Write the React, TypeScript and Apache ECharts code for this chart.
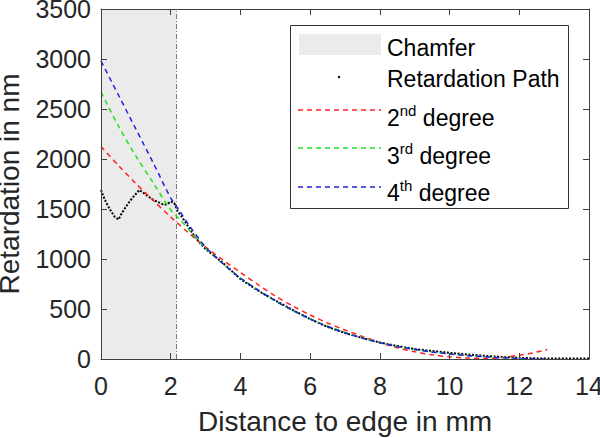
import React, { useEffect, useRef } from "react";
import * as echarts from "echarts";

const xTicks = [0, 2, 4, 6, 8, 10, 12, 14];
const yTicks = [0, 500, 1000, 1500, 2000, 2500, 3000, 3500];
const chamferEnd = 2.16;

const retardationPath: [number, number][] = [
  [0, 1690], [0.1, 1600], [0.2, 1530], [0.3, 1470], [0.4, 1420], [0.5, 1395],
  [0.6, 1460], [0.7, 1515], [0.8, 1565], [0.9, 1610], [1.0, 1650], [1.1, 1690],
  [1.2, 1665], [1.3, 1640], [1.4, 1615], [1.5, 1590], [1.6, 1575], [1.7, 1560],
  [1.8, 1540], [1.9, 1548], [2.0, 1575], [2.1, 1560], [2.2, 1480], [2.3, 1430],
  [2.4, 1380], [2.6, 1270], [2.8, 1175], [3.0, 1100], [3.25, 1030], [3.5, 960],
  [3.75, 880], [4.0, 800], [4.5, 685], [5.0, 585], [5.5, 490], [6.0, 400],
  [6.5, 320], [7.0, 260], [7.5, 210], [8.0, 165], [8.5, 130], [9.0, 100],
  [9.5, 80], [10.0, 62], [10.5, 46], [11.0, 32], [11.5, 21], [12.0, 12],
  [12.5, 6], [13.0, 4], [13.5, 4], [14.0, 6],
];

const fit2nd: [number, number][] = [
  [0, 2125], [0.5, 1935], [1, 1755], [1.5, 1585], [2, 1420], [2.5, 1265],
  [3, 1120], [3.5, 990], [4, 865], [4.5, 745], [5, 630], [5.5, 530], [6, 440],
  [6.5, 360], [7, 290], [7.5, 225], [8, 165], [8.5, 112], [9, 72], [9.5, 42],
  [10, 22], [10.5, 10], [11, 7], [11.5, 14], [12, 38], [12.4, 62], [12.8, 95],
];

const fit3rd: [number, number][] = [
  [0, 2670], [0.5, 2330], [1, 2030], [1.5, 1760], [2, 1490], [2.25, 1400],
  [2.5, 1300], [3, 1110], [3.5, 950], [4, 810], [4.5, 690], [5, 580],
  [5.5, 485], [6, 400], [6.5, 330], [7, 265], [7.5, 210], [8, 165], [8.5, 125],
  [9, 95], [9.5, 70], [10, 50], [10.5, 35], [11, 22], [11.5, 12], [12, 5], [12.1, 3],
];

const fit4th: [number, number][] = [
  [0, 2980], [0.5, 2640], [1, 2300], [1.5, 1960], [2, 1610], [2.25, 1485],
  [2.5, 1350], [3, 1120], [3.5, 955], [4, 810], [4.5, 690], [5, 582],
  [5.5, 487], [6, 400], [6.5, 325], [7, 262], [7.5, 208], [8, 163], [8.5, 125],
  [9, 95], [9.5, 70], [10, 50], [10.5, 34], [11, 22], [11.5, 12], [12, 5],
  [12.5, 1], [12.8, 0],
];

const legendLabels = ["Chamfer", "Retardation Path", "{n|2}{s|nd}{n| degree}", "{n|3}{s|rd}{n| degree}", "{n|4}{s|th}{n| degree}"];

const FONT = "'Liberation Sans', Arial, sans-serif";
const TEXT = "#262626";
const AXIS = "#404040";
const RED = "#ff2020";
const GREEN = "#22e022";
const BLUE = "#2020e0";
const DASH = [5, 4];

export default function App() {
  const ref = useRef<HTMLDivElement>(null);
  useEffect(() => {
    if (!ref.current) return;
    const chart = echarts.init(ref.current, null, { renderer: "svg" });
    const axisCommon = {
      axisLine: { show: true, onZero: false, lineStyle: { color: AXIS, width: 1 } },
      axisTick: { show: true, inside: true, length: 6, lineStyle: { color: AXIS } },
      splitLine: { show: false },
      z: 10,
    };
    const rich = {
      n: { fontSize: 23, fontFamily: FONT, color: TEXT, lineHeight: 26, verticalAlign: "bottom" },
      s: { fontSize: 15, fontFamily: FONT, color: TEXT, lineHeight: 15, verticalAlign: "top" },
    };
    const legendX = 387;
    const rowY = [46, 77, 116, 154, 191];
    const lineY = [0, 0, 110, 148, 187];
    const colors = [RED, GREEN, BLUE];
    const legendGraphics: any[] = [
      {
        type: "rect",
        shape: { x: 290.5, y: 25.5, width: 278, height: 183 },
        style: { fill: "#ffffff", stroke: "#333333", lineWidth: 1 },
        z: 100,
      },
      {
        type: "rect",
        shape: { x: 299, y: 34, width: 82, height: 21 },
        style: { fill: "#ebebeb" },
        z: 101,
      },
      {
        type: "circle",
        shape: { cx: 339, cy: 77, r: 1.2 },
        style: { fill: "#000" },
        z: 101,
      },
    ];
    for (let i = 0; i < 3; i++) {
      legendGraphics.push({
        type: "line",
        shape: { x1: 298, y1: lineY[i + 2], x2: 381, y2: lineY[i + 2] },
        style: { stroke: colors[i], lineWidth: 1.5, lineDash: DASH },
        z: 101,
      });
    }
    legendLabels.forEach((t, i) => {
      legendGraphics.push({
        type: "text",
        x: legendX,
        y: rowY[i],
        style: {
          text: i < 2 ? `{n|${t}}` : t,
          rich,
          verticalAlign: "middle",
          align: "left",
        },
        z: 101,
      });
    });

    chart.setOption({
      animation: false,
      backgroundColor: "#ffffff",
      grid: { left: 101, right: 11, top: 9, bottom: 79, containLabel: false, outerBoundsMode: "none" },
      xAxis: [
        {
          type: "value",
          min: 0,
          max: 14,
          interval: 2,
          position: "bottom",
          name: "Distance to edge in mm",
          nameLocation: "middle",
          nameGap: 48,
          nameTextStyle: { fontSize: 28, fontFamily: FONT, color: TEXT },
          axisLabel: {
            fontSize: 25,
            fontFamily: FONT,
            color: TEXT,
            margin: 14,
            formatter: (v: number) => (xTicks.includes(v) ? String(v) : ""),
          },
          ...axisCommon,
        },
        {
          type: "value",
          min: 0,
          max: 14,
          interval: 2,
          position: "top",
          axisLabel: { show: false },
          ...axisCommon,
        },
      ],
      yAxis: [
        {
          type: "value",
          min: 0,
          max: 3500,
          interval: 500,
          position: "left",
          name: "Retardation in nm",
          nameLocation: "middle",
          nameGap: 78,
          nameTextStyle: { fontSize: 28, fontFamily: FONT, color: TEXT },
          axisLabel: {
            fontSize: 25,
            fontFamily: FONT,
            color: TEXT,
            margin: 10,
            formatter: (v: number) => (yTicks.includes(v) ? String(v) : ""),
          },
          ...axisCommon,
        },
        {
          type: "value",
          min: 0,
          max: 3500,
          interval: 500,
          position: "right",
          axisLabel: { show: false },
          ...axisCommon,
        },
      ],
      series: [
        {
          name: "Chamfer",
          type: "line",
          data: [],
          markArea: {
            silent: true,
            itemStyle: { color: "#ebebeb" },
            data: [[{ xAxis: 0 }, { xAxis: chamferEnd }]],
          },
          markLine: {
            silent: true,
            symbol: "none",
            label: { show: false },
            lineStyle: { color: "#7a7a7a", width: 1, type: [5, 2, 1, 2] },
            data: [{ xAxis: chamferEnd }],
          },
        },
        {
          name: "Retardation Path",
          type: "line",
          data: retardationPath,
          showSymbol: false,
          lineStyle: { color: "#000", width: 2, type: [2, 1.6] },
          z: 3,
        },
        {
          name: "2nd degree",
          type: "line",
          data: fit2nd,
          showSymbol: false,
          smooth: 0.3,
          lineStyle: { color: RED, width: 1.5, type: DASH },
          z: 4,
        },
        {
          name: "3rd degree",
          type: "line",
          data: fit3rd,
          showSymbol: false,
          smooth: 0.3,
          lineStyle: { color: GREEN, width: 1.5, type: DASH },
          z: 5,
        },
        {
          name: "4th degree",
          type: "line",
          data: fit4th,
          showSymbol: false,
          smooth: 0.3,
          lineStyle: { color: BLUE, width: 1.5, type: DASH },
          z: 6,
        },
      ],
      graphic: legendGraphics,
    });
    return () => chart.dispose();
  }, []);
  return (
    <div
      ref={ref}
      style={{ position: "absolute", left: 0, top: 0, width: 600, height: 438 }}
    />
  );
}
